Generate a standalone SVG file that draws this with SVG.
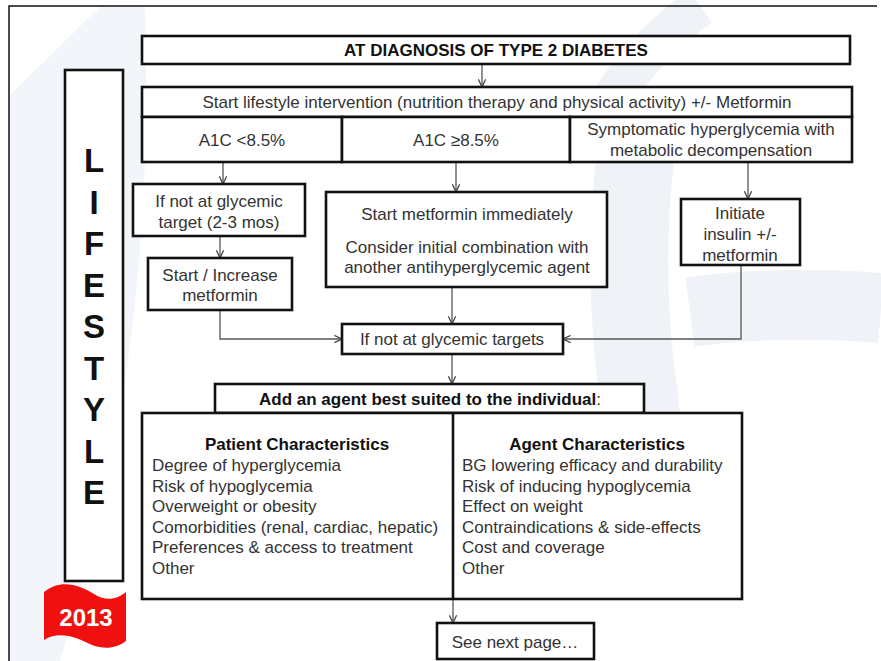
<svg xmlns="http://www.w3.org/2000/svg" width="881" height="661" viewBox="0 0 881 661">
<style>
.box{fill:#fff;stroke:#111;stroke-width:2.6}
.t{font-family:"Liberation Sans",Arial,sans-serif;font-size:17px;fill:#333}
.c{text-anchor:middle}
.b{font-weight:bold;fill:#111}
.big{font-family:"Liberation Sans",Arial,sans-serif;font-size:33px;font-weight:bold;fill:#111;text-anchor:middle}
.conn{fill:none;stroke:#555;stroke-width:1.3}
.wm{fill:none;stroke:#eff2f7}
</style>
<defs>
<marker id="arr" viewBox="0 0 10 10" refX="9.5" refY="5" markerWidth="9" markerHeight="9" markerUnits="userSpaceOnUse" orient="auto">
<path d="M1,1 L9.5,5 L1,9" fill="none" stroke="#444" stroke-width="1.4"/>
</marker>
</defs>
<rect x="0" y="0" width="881" height="661" fill="#fff"/>
<g id="watermark">
<path d="M10,95 L100,7 L145,7 C150,200 140,400 60,661 L10,661 Z" fill="#f2f5f9"/>
<path class="wm" d="M700,6 Q640,50 605,110" stroke-width="40"/>
<path class="wm" d="M645,95 Q615,250 642,420" stroke-width="78"/>
<path class="wm" d="M690,312 Q780,300 881,308" stroke-width="70"/>
</g>
<path d="M9,661 L9,6 L877,6" fill="none" stroke="#111" stroke-width="1.5"/>
<g id="connectors">
<path class="conn" d="M482,64 L482,87" marker-end="url(#arr)"/>
<path class="conn" d="M223,162 L223,184" marker-end="url(#arr)"/>
<path class="conn" d="M456,162 L456,192" marker-end="url(#arr)"/>
<path class="conn" d="M748,162 L748,199" marker-end="url(#arr)"/>
<path class="conn" d="M220,236 L220,258" marker-end="url(#arr)"/>
<path class="conn" d="M220,310 L220,339 L342,339" marker-end="url(#arr)"/>
<path class="conn" d="M452,287 L452,324" marker-end="url(#arr)"/>
<path class="conn" d="M741,265 L741,339 L563,339" marker-end="url(#arr)"/>
<path class="conn" d="M452,354 L452,384" marker-end="url(#arr)"/>
<path class="conn" d="M453,599 L453,623" marker-end="url(#arr)"/>
</g>
<g id="lifestyle">
<rect class="box" x="65" y="70" width="58" height="511"/>
<text class="big" x="94" y="172">L</text>
<text class="big" x="94" y="213.5">I</text>
<text class="big" x="94" y="255">F</text>
<text class="big" x="94" y="296.5">E</text>
<text class="big" x="94" y="338">S</text>
<text class="big" x="94" y="379.5">T</text>
<text class="big" x="94" y="421">Y</text>
<text class="big" x="94" y="462.5">L</text>
<text class="big" x="94" y="504">E</text>
</g>
<g id="badge2013">
<path d="M44,592 C60,579 78,584 94,594 C107,602 117,599 126,592 L126,641 C117,648 105,650 92,645 C77,638 60,630 44,640 Z" fill="#f01010"/>
<text x="86" y="626" font-family="Liberation Sans,Arial,sans-serif" font-size="24" font-weight="bold" fill="#fff" text-anchor="middle">2013</text>
</g>
<g id="diagnosis">
<rect class="box" x="142" y="36" width="708" height="28"/>
<text class="t c b" x="496" y="56">AT DIAGNOSIS OF TYPE 2 DIABETES</text>
</g>
<g id="lifestyle-intervention">
<rect class="box" x="142" y="87" width="710" height="30"/>
<text class="t c" x="497" y="108">Start lifestyle intervention (nutrition therapy and physical activity) +/- Metformin</text>
</g>
<g id="a1c-low">
<rect class="box" x="142" y="117" width="200" height="45"/>
<text class="t c" x="242" y="146">A1C &lt;8.5%</text>
</g>
<g id="a1c-high">
<rect class="box" x="342" y="117" width="228" height="45"/>
<text class="t c" x="456" y="146">A1C ≥8.5%</text>
</g>
<g id="symptomatic">
<rect class="box" x="570" y="117" width="282" height="45"/>
<text class="t c" x="711" y="135">Symptomatic hyperglycemia with</text>
<text class="t c" x="711" y="156">metabolic decompensation</text>
</g>
<g id="not-at-target-1">
<rect class="box" x="133" y="184" width="172" height="52"/>
<text class="t c" x="219" y="207">If not at glycemic</text>
<text class="t c" x="219" y="228">target (2-3 mos)</text>
</g>
<g id="increase-metformin">
<rect class="box" x="148" y="258" width="144" height="52"/>
<text class="t c" x="220" y="281">Start / Increase</text>
<text class="t c" x="220" y="301">metformin</text>
</g>
<g id="start-metformin">
<rect class="box" x="326" y="192" width="281" height="95"/>
<text class="t c" x="467" y="220">Start metformin immediately</text>
<text class="t c" x="467" y="253">Consider initial combination with</text>
<text class="t c" x="467" y="273">another antihyperglycemic agent</text>
</g>
<g id="insulin">
<rect class="box" x="681" y="199" width="119" height="66"/>
<text class="t c" x="740" y="219">Initiate</text>
<text class="t c" x="740" y="240">insulin +/-</text>
<text class="t c" x="740" y="261">metformin</text>
</g>
<g id="not-at-targets-2">
<rect class="box" x="342" y="324" width="221" height="30"/>
<text class="t c" x="452" y="345">If not at glycemic targets</text>
</g>
<g id="add-agent">
<rect class="box" x="215" y="384" width="429" height="29"/>
<text class="t c" x="430" y="405"><tspan class="b">Add an agent best suited to the individual</tspan>:</text>
</g>
<g id="characteristics">
<rect class="box" x="142" y="413" width="600" height="186"/>
<line x1="453" y1="413" x2="453" y2="599" stroke="#111" stroke-width="2.6"/>
<text class="t c b" x="297" y="450">Patient Characteristics</text>
<text class="t" x="152" y="471">Degree of hyperglycemia</text>
<text class="t" x="152" y="492">Risk of hypoglycemia</text>
<text class="t" x="152" y="512">Overweight or obesity</text>
<text class="t" x="152" y="533">Comorbidities (renal, cardiac, hepatic)</text>
<text class="t" x="152" y="553">Preferences &amp; access to treatment</text>
<text class="t" x="152" y="574">Other</text>
<text class="t c b" x="597" y="450">Agent Characteristics</text>
<text class="t" x="462" y="471">BG lowering efficacy and durability</text>
<text class="t" x="462" y="492">Risk of inducing hypoglycemia</text>
<text class="t" x="462" y="512">Effect on weight</text>
<text class="t" x="462" y="533">Contraindications &amp; side-effects</text>
<text class="t" x="462" y="553">Cost and coverage</text>
<text class="t" x="462" y="574">Other</text>
</g>
<g id="next-page">
<rect class="box" x="437" y="623" width="157" height="36"/>
<text class="t c" x="515" y="648">See next page…</text>
</g>
</svg>
